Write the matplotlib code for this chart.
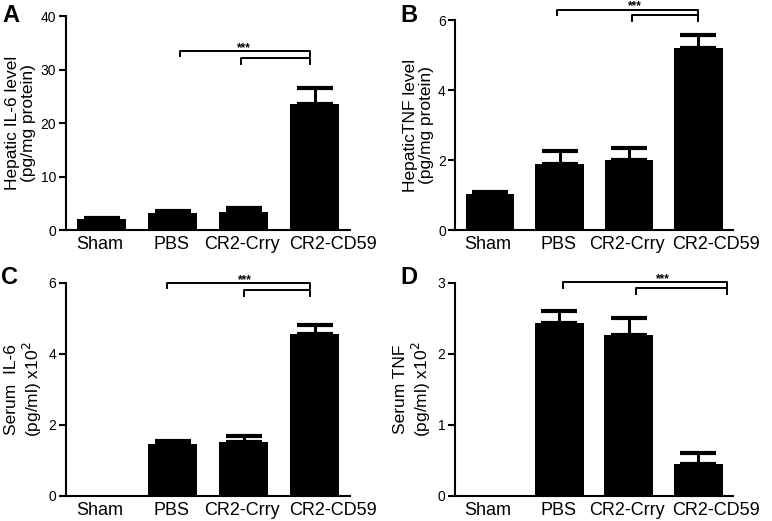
import matplotlib
matplotlib.use('Agg')
import numpy as np
import matplotlib.pyplot as plt
from matplotlib.transforms import ScaledTranslation, blended_transform_factory

plt.rcParams['font.family'] = ['Liberation Sans', 'DejaVu Sans']

groups = ['Sham', 'PBS', 'CR2-Crry', 'CR2-CD59']

# panel A: hepatic IL-6
il6_liver = [2.05, 3.1, 3.4, 23.5]
il6_liver_err = [0.25, 0.5, 0.65, 3.0]
# panel B: hepatic TNF
tnf_liver = [1.02, 1.9, 2.0, 5.2]
tnf_liver_err = [0.08, 0.36, 0.33, 0.38]
# panel C: serum IL-6 (x10^2)
il6_serum = [0.0, 1.47, 1.53, 4.55]
il6_serum_err = [0.0, 0.09, 0.16, 0.25]
# panel D: serum TNF (x10^2)
tnf_serum = [0.0, 2.43, 2.26, 0.45]
tnf_serum_err = [0.0, 0.17, 0.25, 0.16]

panels = [
    dict(letter='A', vals=il6_liver, errs=il6_liver_err, ymax=40, ticks=[0, 10, 20, 30, 40],
         ylabel='Hepatic IL-6 level\n(pg/mg protein)',
         rect=[0.0855, 0.5585, 0.368, 0.4107], lpos=(2, 4),
         br=[(1.1, 2.94, 33.5), (1.97, 2.94, 32.1)], star=2.0),
    dict(letter='B', vals=tnf_liver, errs=tnf_liver_err, ymax=6, ticks=[0, 2, 4, 6],
         ylabel='HepaticTNF level\n(pg/mg protein)',
         rect=[0.590, 0.5585, 0.3594, 0.403], lpos=(400, 4),
         br=[(0.97, 2.99, 6.3), (2.05, 2.99, 6.14)], star=2.09),
    dict(letter='C', vals=il6_serum, errs=il6_serum_err, ymax=6, ticks=[0, 2, 4, 6],
         ylabel='Serum  IL-6\n(pg/ml) x10$^2$',
         rect=[0.0855, 0.048, 0.368, 0.4094], lpos=(1, 266),
         br=[(0.92, 2.94, 6.0), (2.01, 2.94, 5.79)], star=2.02),
    dict(letter='D', vals=tnf_serum, errs=tnf_serum_err, ymax=3, ticks=[0, 1, 2, 3],
         ylabel='Serum TNF\n(pg/ml) x10$^2$',
         rect=[0.5894, 0.048, 0.3601, 0.4094], lpos=(400, 266),
         br=[(1.06, 3.42, 3.01), (2.1, 3.42, 2.92)], star=2.49),
]

# label offsets in pixels: the last group label is pushed right of its bar
label_shift = [-2, -1, -2, 18]

fig = plt.figure(figsize=(7.72, 5.21), dpi=100)
x = np.arange(len(groups))

for p in panels:
    ax = fig.add_axes(p['rect'])
    vals = np.array(p['vals'])
    errs = np.array(p['errs'])
    ax.bar(x, vals, width=0.7, color='black', zorder=2)
    m = vals > 0
    ax.errorbar(x[m], vals[m], yerr=[np.zeros(m.sum()), errs[m]], fmt='none',
                ecolor='black', elinewidth=2.2, capsize=13, capthick=3, zorder=1)
    ax.set_xlim(-0.5, 3.5)
    ax.set_ylim(0, p['ymax'])
    ax.set_yticks(p['ticks'])
    ax.set_xticks([])
    trans = blended_transform_factory(ax.transData, ax.transAxes)
    for xi, g, dx in zip(x, groups, label_shift):
        ax.text(xi, 0, g, fontsize=13, ha='center', va='top',
                transform=trans + ScaledTranslation(dx / 100, -6 / 100, fig.dpi_scale_trans))
    ax.tick_params(axis='y', length=5, width=1.5, labelsize=10, pad=2)
    for s in ['top', 'right']:
        ax.spines[s].set_visible(False)
    for s in ['left', 'bottom']:
        ax.spines[s].set_linewidth(1.5)
    ax.set_ylabel(p['ylabel'], fontsize=12.5, labelpad=3, linespacing=1.1)

    leg = p['ymax'] * 0.026
    for x0, x1, y in p['br']:
        ax.plot([x0, x0, x1, x1], [y - leg, y, y, y - leg], color='black', lw=1.4,
                clip_on=False)
    ax.text(p['star'], p['br'][0][2], '***', ha='center', va='baseline', fontsize=8.5,
            fontweight='bold', clip_on=False)

    fig.text(p['lpos'][0] / 772, 1 - p['lpos'][1] / 521, p['letter'], fontsize=17,
             fontweight='bold', ha='left', va='top')

plt.savefig('out.png', dpi=100)
